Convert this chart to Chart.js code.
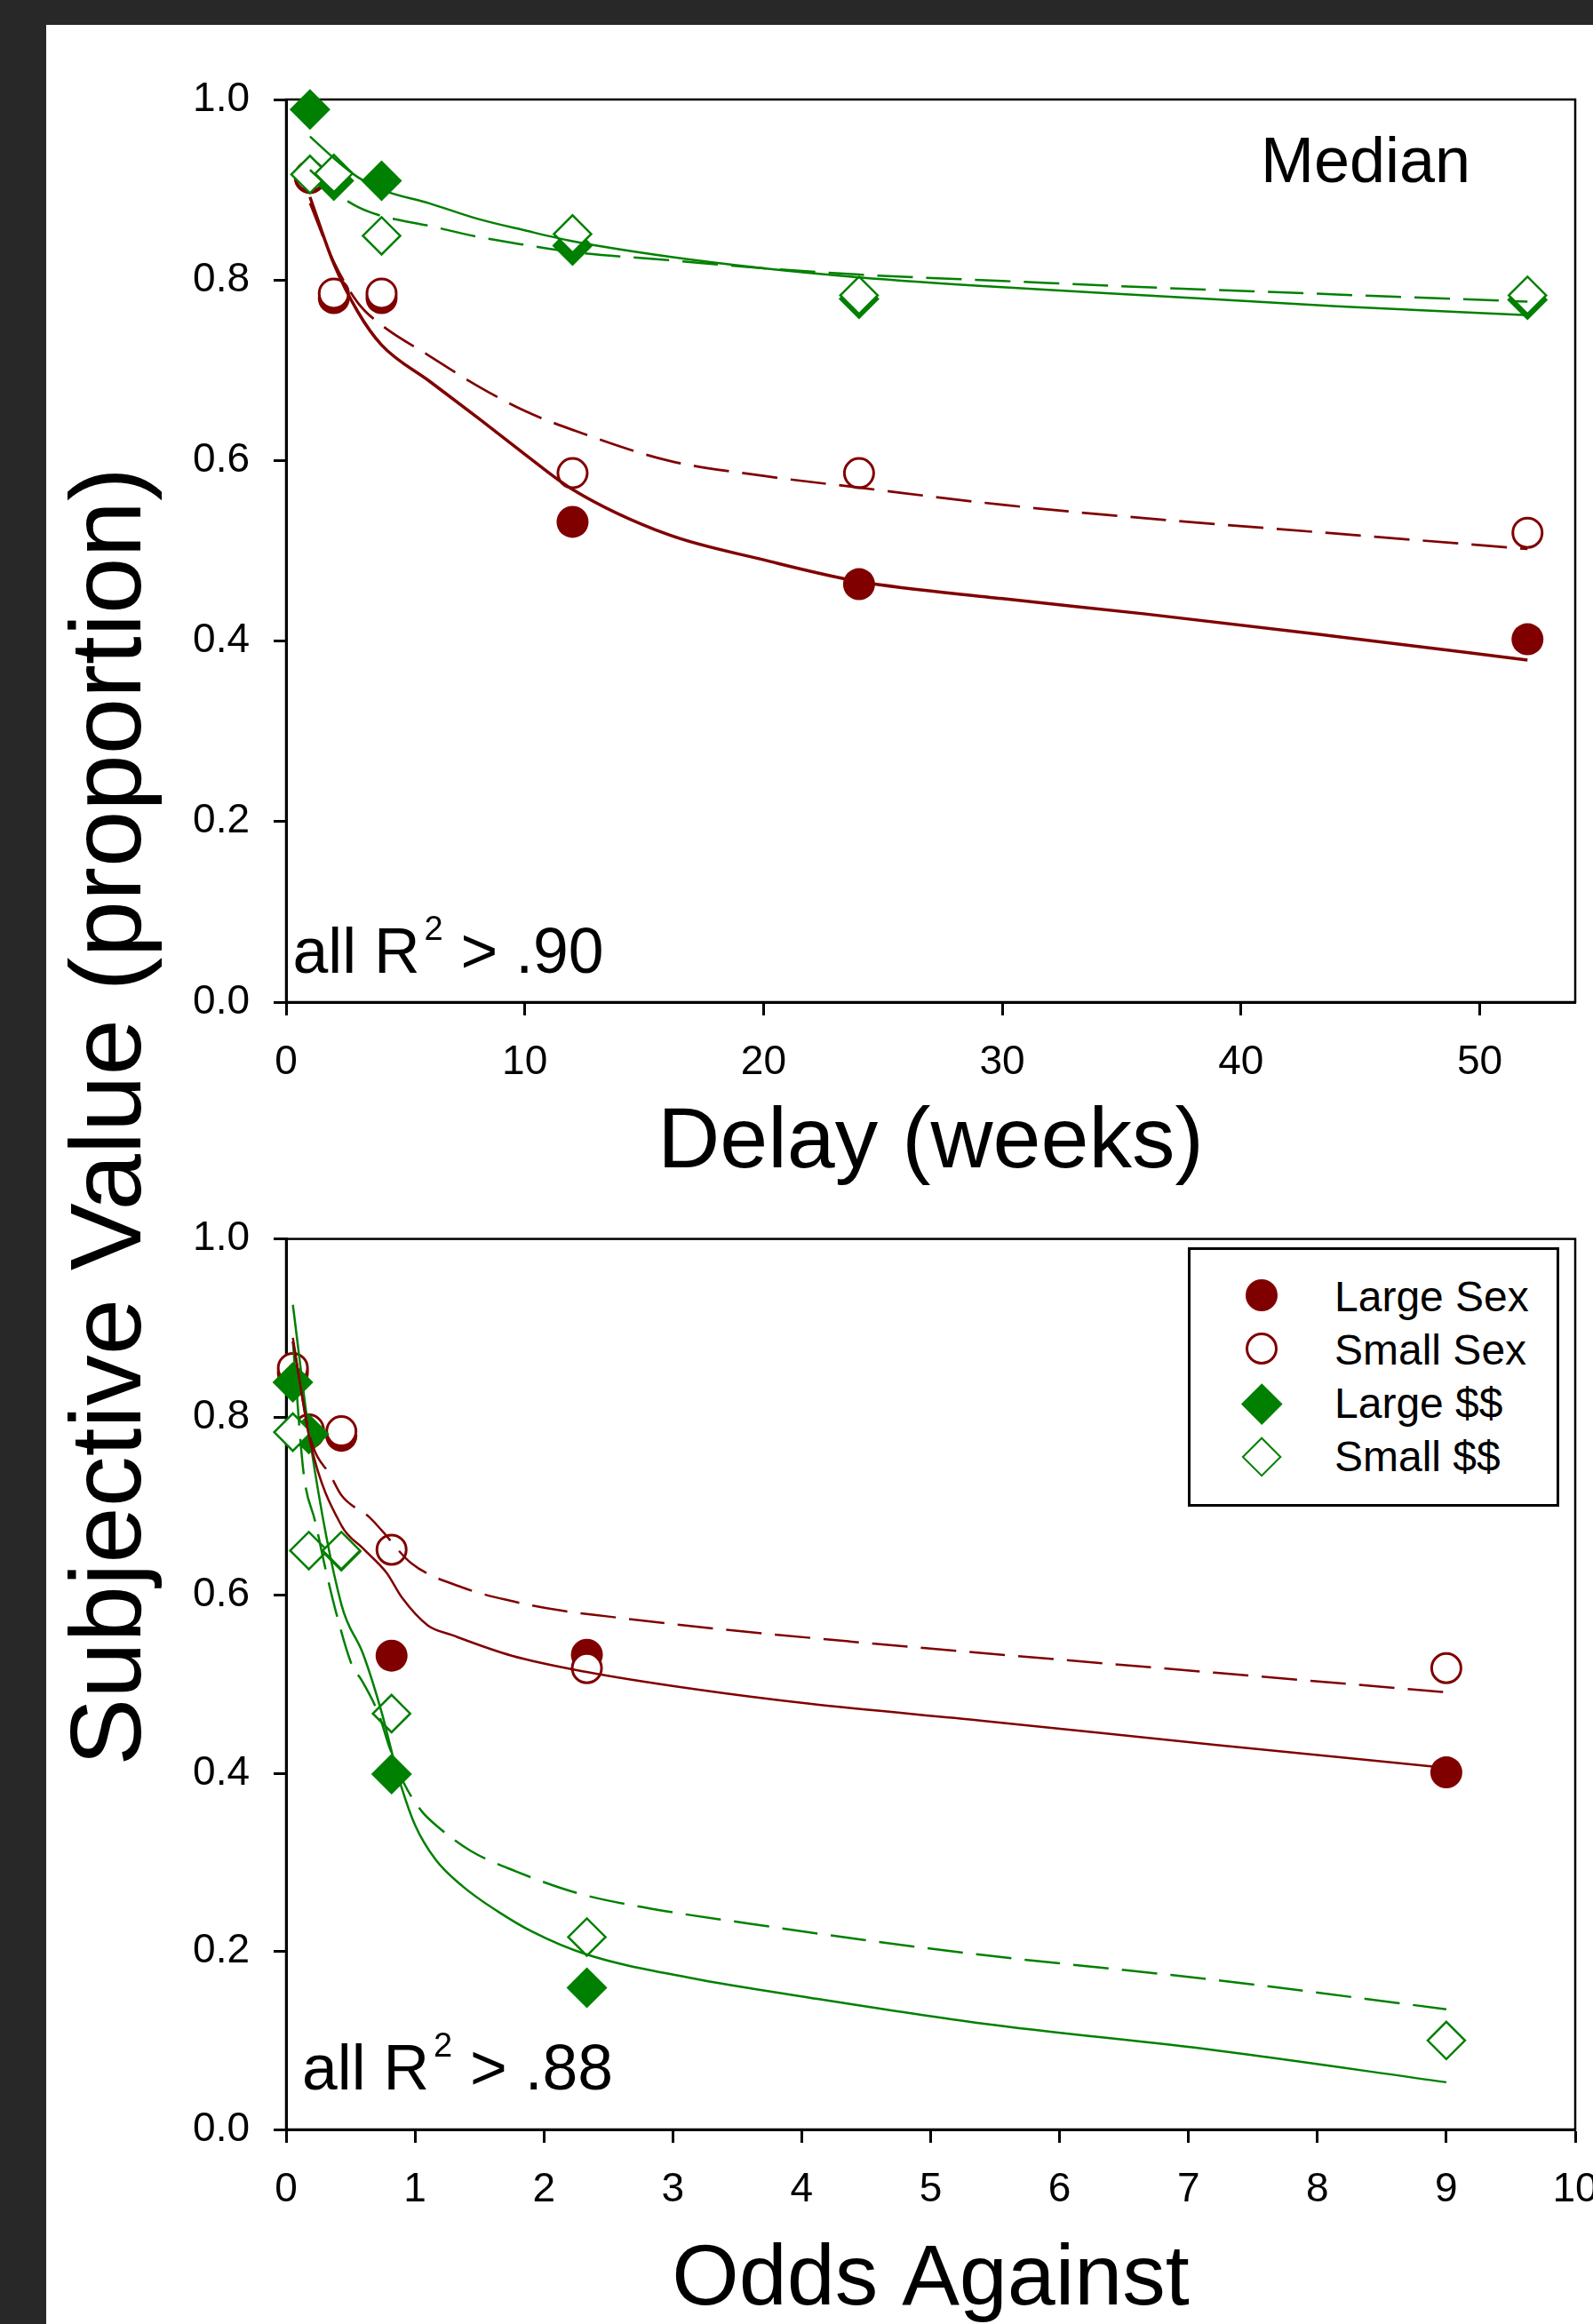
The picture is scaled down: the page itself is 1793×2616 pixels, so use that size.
<!DOCTYPE html>
<html>
<head>
<meta charset="utf-8">
<script src="https://cdn.jsdelivr.net/npm/chart.js@4/dist/chart.umd.min.js"></script>
<style>
html,body{margin:0;padding:0;width:1793px;height:2616px;overflow:hidden;background:#282828;font-family:"Liberation Sans",Arial,Helvetica,sans-serif;}
#panel{position:absolute;left:52px;top:28px;width:1741px;height:2588px;background:#fff;}
canvas{position:absolute;}
#c1{left:52px;top:28px;width:1790px;height:1312px;}
#c2{left:52px;top:1340px;width:1790px;height:1276px;}
.txt{position:absolute;white-space:nowrap;color:#000;}
.sup{position:relative;font-size:38px;top:-37px;margin-left:5px;}
#ytitle{left:-881px;top:1200px;width:2000px;height:114px;font-size:114px;line-height:114px;text-align:center;transform:rotate(-90deg);}
#median{left:1419px;top:144px;font-size:72px;line-height:72px;}
#r2top{left:329.5px;top:1035px;font-size:71.5px;line-height:71.5px;}
#r2bot{left:340px;top:2291.5px;font-size:71.5px;line-height:71.5px;}
#legend{position:absolute;left:1337px;top:1404px;width:418px;height:292px;box-sizing:border-box;border:3px solid #000;background:#fff;}
.lrow{position:absolute;left:162px;font-size:48px;line-height:48px;white-space:nowrap;color:#000;}
.mk{position:absolute;box-sizing:border-box;}
</style>
</head>
<body>
<div id="panel"></div>
<canvas id="c1" width="1790" height="1312"></canvas>
<canvas id="c2" width="1790" height="1276"></canvas>
<div class="txt" id="ytitle">Subjective Value (proportion)</div>
<div class="txt" id="median">Median</div>
<div class="txt" id="r2top">all R<span class="sup">2</span> &gt; .90</div>
<div class="txt" id="r2bot">all R<span class="sup">2</span> &gt; .88</div>
<div id="legend"></div>
<script>
// ---------------- DATA ----------------
// Top panel: delay discounting
const delayWeeks      = [1, 2, 4, 12, 24, 52];
const delayLargeSex   = [0.913, 0.780, 0.780, 0.532, 0.463, 0.402];
const delaySmallSex   = [0.915, 0.785, 0.785, 0.586, 0.586, 0.520];
const delayLargeMoney = [0.989, 0.910, 0.910, 0.838, 0.779, 0.778];
const delaySmallMoney = [0.917, 0.918, 0.849, 0.851, 0.783, 0.783];

// fitted curves
const delayFitX          = [1, 2, 3, 4, 6, 8, 10, 12, 16, 20, 24, 30, 36, 44, 52];
const delayFitLargeSex   = [0.892, 0.818, 0.765, 0.728, 0.688, 0.648, 0.607, 0.568, 0.518, 0.490, 0.466, 0.447, 0.430, 0.405, 0.379];
const delayFitSmallSex   = [0.885, 0.820, 0.775, 0.750, 0.716, 0.683, 0.655, 0.634, 0.600, 0.583, 0.570, 0.551, 0.536, 0.519, 0.502];
const delayFitLargeMoney = [0.959, 0.935, 0.914, 0.900, 0.885, 0.868, 0.855, 0.843, 0.826, 0.813, 0.803, 0.792, 0.783, 0.771, 0.761];
const delayFitSmallMoney = [0.922, 0.898, 0.881, 0.871, 0.860, 0.848, 0.839, 0.831, 0.822, 0.813, 0.806, 0.799, 0.792, 0.784, 0.776];

// Bottom panel: probability discounting
const oddsAgainst     = [0.0526, 0.1765, 0.4286, 0.8182, 2.3333, 9];
const oddsLargeSex    = [0.850, 0.782, 0.779, 0.532, 0.533, 0.401];
const oddsSmallSex    = [0.855, 0.786, 0.784, 0.651, 0.518, 0.518];
const oddsLargeMoney  = [0.839, 0.781, 0.649, 0.399, 0.159, null];
const oddsSmallMoney  = [0.783, 0.650, 0.650, 0.467, 0.216, 0.100];

const oddsFitLargeSexX   = [0.0526, 0.19, 0.43, 0.6, 0.78, 0.9, 1.1, 1.29, 1.75, 2.32, 3.14, 4.06, 5.4, 7.2, 9];
const oddsFitLargeSex    = [0.889, 0.770, 0.678, 0.652, 0.625, 0.597, 0.566, 0.555, 0.532, 0.514, 0.495, 0.478, 0.459, 0.432, 0.406];
const oddsFitSmallSexX   = [0.0526, 0.19, 0.35, 0.43, 0.65, 0.74, 0.97, 1.36, 1.73, 2.12, 2.5, 3.29, 4.37, 5.4, 7.2, 9];
const oddsFitSmallSex    = [0.885, 0.776, 0.733, 0.712, 0.687, 0.673, 0.636, 0.609, 0.594, 0.583, 0.576, 0.563, 0.548, 0.535, 0.513, 0.491];
const oddsFitLargeMoneyX = [0.0526, 0.19, 0.43, 0.6, 0.744, 0.825, 0.894, 1.0, 1.16, 1.37, 1.64, 1.91, 2.32, 3.14, 4.06, 5.4, 7.2, 9];
const oddsFitLargeMoney  = [0.926, 0.770, 0.589, 0.533, 0.467, 0.421, 0.385, 0.342, 0.303, 0.273, 0.245, 0.222, 0.197, 0.170, 0.148, 0.119, 0.089, 0.053];
const oddsFitSmallMoneyX = [0.0526, 0.136, 0.227, 0.308, 0.40, 0.515, 0.584, 0.722, 0.8, 0.917, 1.054, 1.16, 1.43, 1.78, 2.27, 2.83, 3.6, 4.52, 5.4, 7.2, 9];
const oddsFitSmallMoney  = [0.885, 0.737, 0.682, 0.628, 0.574, 0.520, 0.505, 0.465, 0.430, 0.388, 0.357, 0.342, 0.313, 0.290, 0.265, 0.248, 0.231, 0.212, 0.196, 0.168, 0.135];

// axes / ticks
const yTicks       = [0, 0.2, 0.4, 0.6, 0.8, 1.0];
const yTickLabels  = ['0.0', '0.2', '0.4', '0.6', '0.8', '1.0'];
const delayTicks   = [0, 10, 20, 30, 40, 50];
const delayLabels  = ['0', '10', '20', '30', '40', '50'];
const oddsTicks    = [0, 1, 2, 3, 4, 5, 6, 7, 8, 9, 10];
const oddsLabels   = ['0', '1', '2', '3', '4', '5', '6', '7', '8', '9', '10'];
const seriesNames  = ['Large Sex', 'Small Sex', 'Large $$', 'Small $$'];

// ---------------- RENDER ----------------
Chart.defaults.font.family = '"Liberation Sans", Arial, Helvetica, sans-serif';
Chart.defaults.color = '#000';
const MAROON = '#800000', GREEN = '#008000';

function pts(xs, ys) {
  return xs.map((x, i) => ({x: x, y: ys[i]})).filter(p => p.y !== null && p.y !== undefined);
}
function markerSets(xs, ls, ss, lm, sm) {
  return [
    {label: seriesNames[0], data: pts(xs, ls), showLine: false, pointStyle: 'circle', pointRadius: 18,
     pointBackgroundColor: MAROON, pointBorderColor: MAROON, pointBorderWidth: 0, order: 13, clip: false},
    {label: seriesNames[1], data: pts(xs, ss), showLine: false, pointStyle: 'circle', pointRadius: 16.5,
     pointBackgroundColor: '#fff', pointBorderColor: MAROON, pointBorderWidth: 3, order: 12, clip: false},
    {label: seriesNames[2], data: pts(xs, lm), showLine: false, pointStyle: 'rectRot', pointRadius: 23,
     pointBackgroundColor: GREEN, pointBorderColor: GREEN, pointBorderWidth: 0, order: 11, clip: false},
    {label: seriesNames[3], data: pts(xs, sm), showLine: false, pointStyle: 'rectRot', pointRadius: 21,
     pointBackgroundColor: '#fff', pointBorderColor: GREEN, pointBorderWidth: 2.5, order: 10, clip: false}
  ];
}
function fitSet(label, xs, ys, color, dashed, width) {
  return {label: label, data: pts(xs, ys), showLine: true, pointRadius: 0, borderColor: color,
          borderWidth: width, borderDash: dashed ? [40, 15] : [], cubicInterpolationMode: 'monotone',
          fill: false, order: 1};
}
const frame = {
  id: 'frame',
  beforeDatasetsDraw(chart) {
    const a = chart.chartArea, ctx = chart.ctx;
    ctx.save();
    ctx.strokeStyle = '#000';
    ctx.lineWidth = 2.5;
    ctx.strokeRect(a.left, a.top, a.right - a.left, a.bottom - a.top);
    ctx.restore();
  }
};
function makeChart(id, o) {
  return new Chart(document.getElementById(id), {
    type: 'scatter',
    data: {datasets: o.datasets},
    options: {
      responsive: false, maintainAspectRatio: false, animation: false, events: [],
      layout: {padding: {top: o.padTop, right: 69, left: 0, bottom: 0}},
      plugins: {legend: {display: false}, tooltip: {enabled: false}},
      scales: {
        x: {
          type: 'linear', min: o.xmin, max: o.xmax,
          afterBuildTicks: s => { s.ticks = o.xTicks.map(v => ({value: v})); },
          afterFit: s => { s.height = o.xAxisH; },
          ticks: {autoSkip: false, maxRotation: 0, minRotation: 0, padding: o.xLabelPad,
                  font: {size: 46}, color: '#000', callback: (v, i) => o.xLabels[i]},
          grid: {display: true, drawOnChartArea: false, drawTicks: true, tickLength: 15,
                 tickWidth: 3, tickColor: '#000', color: '#000'},
          border: {display: true, color: '#000', width: 3},
          title: {display: true, text: o.xTitle, color: '#000',
                  font: {size: 97, lineHeight: 1}, padding: {top: 0, bottom: o.titlePad}}
        },
        y: {
          type: 'linear', min: 0, max: 1,
          afterBuildTicks: s => { s.ticks = yTicks.map(v => ({value: v})); },
          afterFit: s => { s.width = 270; },
          ticks: {autoSkip: false, padding: 27, font: {size: 46}, color: '#000',
                  callback: (v, i) => yTickLabels[i]},
          grid: {display: true, drawOnChartArea: false, drawTicks: true, tickLength: 14,
                 tickWidth: 3, tickColor: '#000', color: '#000'},
          border: {display: true, color: '#000', width: 3}
        }
      }
    },
    plugins: [frame]
  });
}

makeChart('c1', {
  padTop: 84, xmin: 0, xmax: 54, xTicks: delayTicks, xLabels: delayLabels,
  xAxisH: 212, xLabelPad: 26, xTitle: 'Delay (weeks)', titlePad: 4.5,
  datasets: [
    fitSet('Large Sex fit', delayFitX, delayFitLargeSex, MAROON, false, 3.5),
    fitSet('Small Sex fit', delayFitX, delayFitSmallSex, MAROON, true, 2.7),
    fitSet('Large $$ fit', delayFitX, delayFitLargeMoney, GREEN, false, 2.5),
    fitSet('Small $$ fit', delayFitX, delayFitSmallMoney, GREEN, true, 2.5)
  ].concat(markerSets(delayWeeks, delayLargeSex, delaySmallSex, delayLargeMoney, delaySmallMoney))
});

makeChart('c2', {
  padTop: 43, xmin: 0, xmax: 10, xTicks: oddsTicks, xLabels: oddsLabels,
  xAxisH: 219, xLabelPad: 26, xTitle: 'Odds Against', titlePad: 0,
  datasets: [
    fitSet('Large Sex fit', oddsFitLargeSexX, oddsFitLargeSex, MAROON, false, 2.5),
    fitSet('Small Sex fit', oddsFitSmallSexX, oddsFitSmallSex, MAROON, true, 2.5),
    fitSet('Large $$ fit', oddsFitLargeMoneyX, oddsFitLargeMoney, GREEN, false, 2.5),
    fitSet('Small $$ fit', oddsFitSmallMoneyX, oddsFitSmallMoney, GREEN, true, 2.5)
  ].concat(markerSets(oddsAgainst, oddsLargeSex, oddsSmallSex, oddsLargeMoney, oddsSmallMoney))
});

// ---------------- LEGEND (HTML) ----------------
(function () {
  const lg = document.getElementById('legend');
  const rowTops = [29.1, 89.1, 149.1, 209.1];
  const mkY = [51.3, 110.7, 173, 233];
  const mkX = 80;
  const styles = [
    {w: 36, css: 'border-radius:50%;background:' + MAROON + ';'},
    {w: 36, css: 'border-radius:50%;background:#fff;border:3px solid ' + MAROON + ';'},
    {w: 32.5, css: 'background:' + GREEN + ';transform:rotate(45deg);'},
    {w: 32.2, css: 'background:#fff;border:2.5px solid ' + GREEN + ';transform:rotate(45deg);'}
  ];
  seriesNames.forEach((name, i) => {
    const m = document.createElement('div');
    m.className = 'mk';
    const st = styles[i];
    m.style.cssText = 'left:' + (mkX - st.w / 2) + 'px;top:' + (mkY[i] - st.w / 2) + 'px;width:' + st.w + 'px;height:' + st.w + 'px;' + st.css;
    lg.appendChild(m);
    const t = document.createElement('div');
    t.className = 'lrow';
    t.style.top = rowTops[i] + 'px';
    t.textContent = name;
    lg.appendChild(t);
  });
})();
</script>
</body>
</html>
